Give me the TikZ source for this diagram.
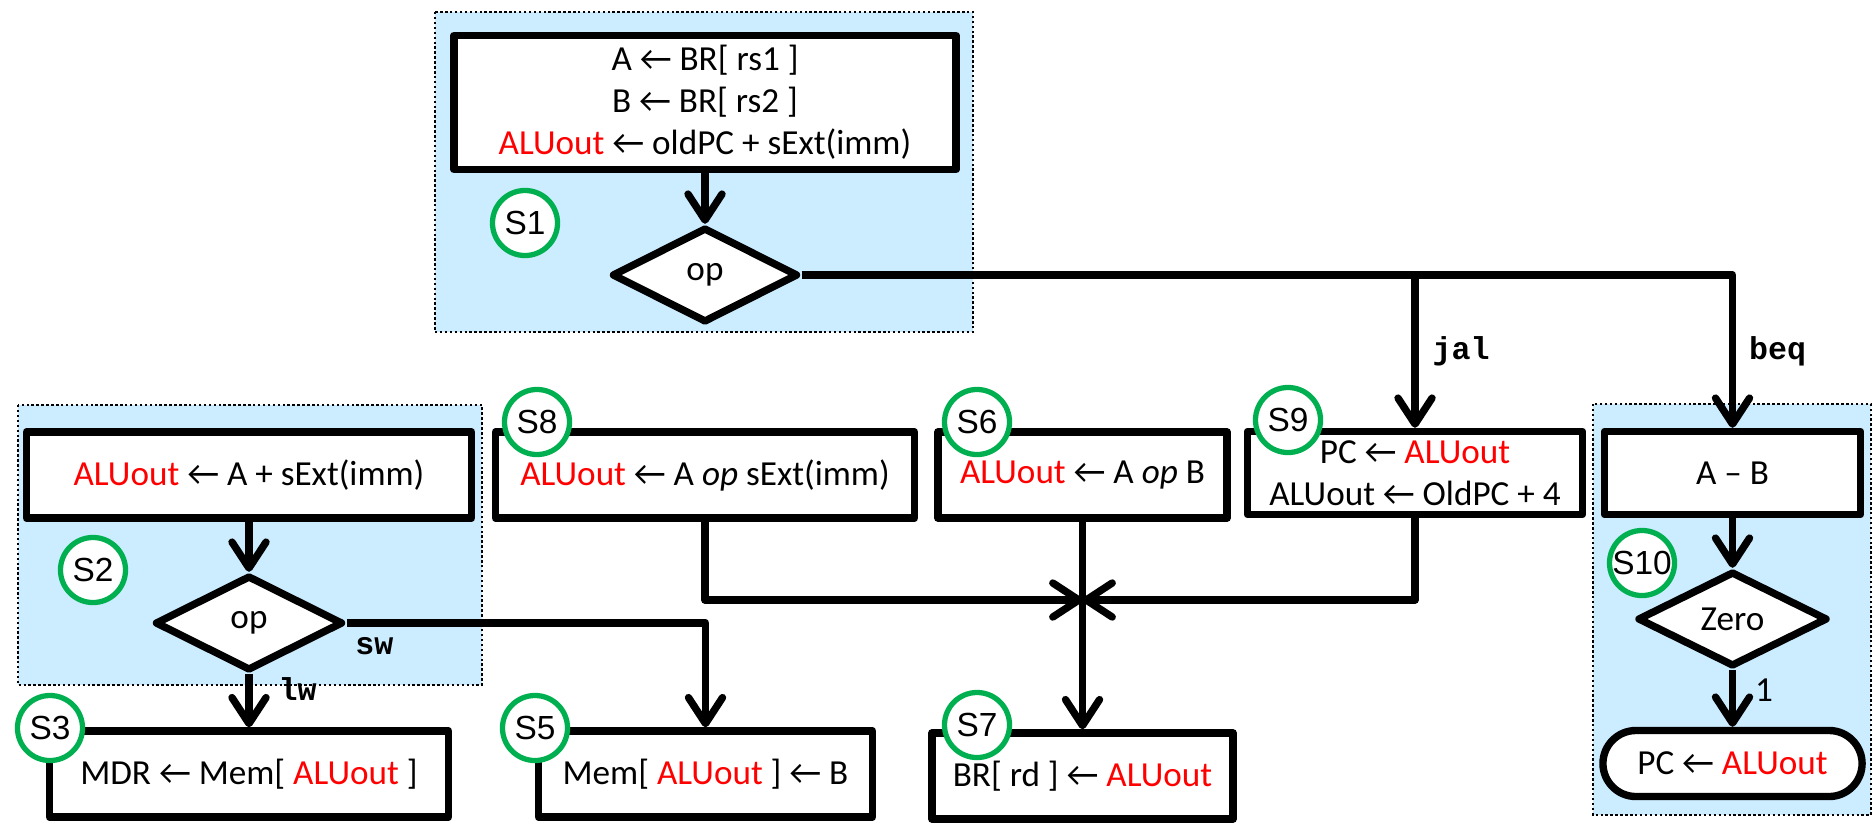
\documentclass[tikz,border=0pt]{standalone}
\usepackage{fontspec}
\setmainfont{Carlito}
\newfontfamily\statefont{Liberation Sans}
\newfontfamily\opfont{Liberation Mono}
\usetikzlibrary{arrows.meta,shapes.geometric}

\definecolor{regionblue}{RGB}{204,236,255}
\definecolor{stategreen}{RGB}{0,176,80}
\newcommand{\alu}{\textcolor{red}{ALUout}}
\newcommand{\lto}{←}

\begin{document}
\begin{tikzpicture}
[x=0.01cm,y=-0.01cm,
  action/.style={draw,line width=2.1pt,fill=white,line join=round,inner sep=0pt,
    minimum height=0.86cm,align=center,font=\fontsize{10}{12}\selectfont},%
  decision/.style={diamond,aspect=2,draw,line width=2.1pt,fill=white,line join=round,
    inner sep=0pt,minimum width=1.86cm,minimum height=0.95cm,font=\fontsize{10}{12}\selectfont},%
  conn/.style={line width=2.1pt,line join=round,-{Straight Barb[length=2.6mm,width=3.4mm,round]}},%
  region/.style={draw,line width=0.8pt,dash pattern=on 0.7pt off 0.7pt,fill=regionblue},%
  stlabel/.style={circle,draw=stategreen,line width=1.5pt,fill=white,minimum size=0.65cm,
    inner sep=0pt,font=\statefont\fontsize{9.5}{11}\selectfont},%
  oplabel/.style={inner sep=0pt,font=\opfont\bfseries\fontsize{9}{10}\selectfont}]
\path[use as bounding box,fill=white] (0,0) rectangle (1876,827);

%% shaded groups
\draw[region] (435,12) rectangle (973,332);
\draw[region] (18,405) rectangle (482,685);
\draw[region] (1593,404) rectangle (1871,815);

%% actions and decisions
\node[action,minimum width=5.02cm,minimum height=1.34cm] (s1box) at (705,102.5)
  {A \lto{} BR[ rs1 ]\\B \lto{} BR[ rs2 ]\\\alu{} \lto{} oldPC + sExt(imm)};
\node[decision] (op1) at (705,275) {op};
\node[action,minimum width=4.45cm] (s2box) at (249,475) {\alu{} \lto{} A + sExt(imm)};
\node[decision,minimum width=1.88cm] (op2) at (249,623) {op};
\node[action,minimum width=3.99cm] (s3box) at (249,774) {MDR \lto{} Mem[ \alu{} ]};
\node[action,minimum width=3.34cm] (s5box) at (705.5,774) {Mem[ \alu{} ] \lto{} B};
\node[action,minimum width=4.19cm] (s8box) at (705,475) {\alu{} \lto{} A \textit{op} sExt(imm)};
\node[action,minimum width=2.89cm] (s6box) at (1082.5,475) {\alu{} \lto{} A \textit{op} B};
\node[action,minimum width=3.01cm] (s7box) at (1082.5,776) {BR[ rd ] \lto{} \alu};
\node[action,minimum width=3.35cm,minimum height=0.83cm] (s9box) at (1415,473)
  {PC \lto{} \alu\\ALUout \lto{} OldPC + 4};
\node[action,minimum width=2.56cm,minimum height=0.83cm] (abbox) at (1732.5,473) {A -- B};
\node[decision,minimum width=1.9cm] (zero) at (1732.5,619) {Zero};
\node[action,rounded corners=0.33cm,minimum width=2.59cm,minimum height=0.66cm] (pcbox)
  at (1732.5,763.5) {PC \lto{} \alu};
\coordinate (jn) at (1082.5,600);

%% connectors
\draw[conn] (s1box) -- (op1);
\draw[conn] (op1.east) -| node[oplabel,pos=0.75,anchor=west,xshift=0.13cm] {beq} (abbox.north);
\draw[conn] (op1.east) -| node[oplabel,pos=0.75,anchor=west,xshift=0.14cm] {jal} (s9box.north);
\draw[conn] (s2box) -- (op2);
\draw[conn] (op2) -- node[oplabel,pos=0,anchor=north west,xshift=0.26cm] {lw} (s3box);
\draw[conn] (op2.east) -| node[oplabel,pos=0,anchor=north west,xshift=0.05cm,yshift=-0.11cm] {sw} (s5box.north);
\draw[conn] (s8box) |- (jn);
\draw[conn] (s9box) |- (jn);
\draw[conn] (s6box) -- (s7box);
\draw[conn] (abbox) -- (zero);
\draw[conn] (zero) -- node[pos=0,anchor=north west,inner sep=0pt,xshift=0.19cm,yshift=-0.05cm,
  font=\fontsize{10}{12}\selectfont] {1} (pcbox);

%% state numbers
\foreach \st/\x/\y in {1/525/223, 2/93/570, 3/50/728, 5/535/728, 6/977/422,
  7/977/725, 8/537/422, 9/1288/420, 10/1642/563}
{
  \node[stlabel] (st\st) at (\x,\y) {\makebox[0pt]{S\st}};
}
\end{tikzpicture}
\end{document}
